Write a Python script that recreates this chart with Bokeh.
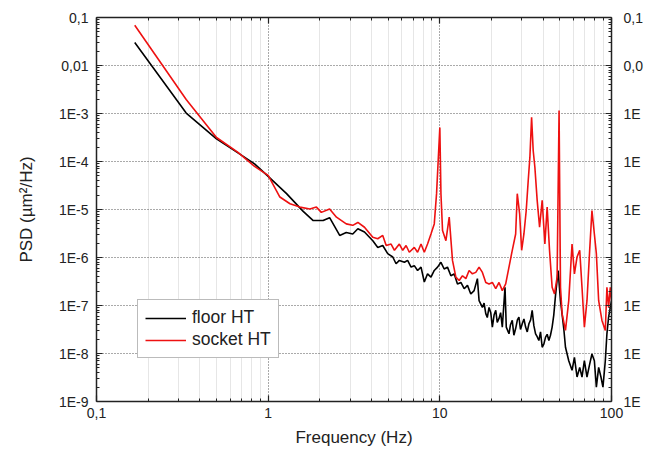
import numpy as np
from bokeh.plotting import figure
from bokeh.models import LogAxis, FixedTicker, Range1d, CustomJSTickFormatter
from bokeh.embed import file_html
from bokeh.resources import INLINE

# ---- data (frequency in Hz, PSD given as log10 of µm²/Hz) ----
floor_freq = [0.167, 0.333, 0.5, 0.667, 0.833, 1.0, 1.28, 1.6, 1.83, 2.09, 2.28,
              2.61, 2.85, 3.11, 3.33, 3.64, 4.07, 4.35, 4.65, 4.97, 5.32,
              5.56, 5.81, 6.22, 6.49, 6.80, 7.10, 7.42, 7.77, 8.12, 8.48,
              8.88, 9.28, 9.70, 10.15, 10.60, 11.08, 11.60, 12.12, 12.67, 13.26,
              13.86, 14.49, 15.15, 15.84, 16.55, 16.93, 17.70, 18.1, 18.52, 18.9,
              19.35, 19.8, 20.23, 20.7, 21.17, 21.6, 22.12, 22.6, 23.12, 23.97,
              24.38, 25.28, 25.8, 26.42, 27.0, 27.65, 28.3, 28.89, 29.5, 30.2,
              30.9, 31.60, 32.3, 33.03, 33.8, 34.51, 35.3, 36.12, 36.9, 37.75,
              38.6, 39.46, 40.4, 41.30, 42.2, 43.16, 44.1, 45.10, 46.1, 47.19,
              48.86, 50.45, 52.72, 53.94, 56.36, 58.90, 60.82, 62.98, 65.29, 67.32,
              69.51, 71.97, 74.62, 76.93, 79.47, 81.62, 84.18, 86.81, 89.16, 92.04,
              94.04, 96.2, 98.4, 100]
floor_log_psd = [-1.52, -2.99, -3.53, -3.82, -4.05, -4.31, -4.67, -5.04, -5.23, -5.23, -5.17,
                 -5.54, -5.48, -5.51, -5.40, -5.47, -5.65, -5.79, -5.75, -5.92, -5.99,
                 -6.13, -6.06, -6.10, -6.06, -6.20, -6.17, -6.27, -6.20, -6.51, -6.34,
                 -6.41, -6.27, -6.20, -6.10, -6.24, -6.20, -6.38, -6.34, -6.55, -6.52,
                 -6.65, -6.58, -6.76, -6.69, -6.44, -6.90, -7.04, -6.95, -7.17, -7.25,
                 -7.04, -7.15, -7.45, -7.20, -7.10, -7.35, -7.27, -7.15, -7.45, -6.62,
                 -7.45, -7.59, -7.40, -7.31, -7.62, -7.48, -7.30, -7.24, -7.50, -7.38,
                 -7.28, -7.45, -7.55, -7.38, -7.30, -7.10, -7.42, -7.59, -7.65, -7.73,
                 -7.55, -7.87, -7.80, -7.66, -7.60, -7.73, -7.62, -7.45, -7.20, -6.79,
                 -6.27, -6.90, -7.48, -7.87, -8.15, -8.35, -8.08, -8.49, -8.29, -8.49,
                 -8.15, -8.49, -8.22, -8.01, -8.15, -8.70, -8.29, -8.49, -8.70, -8.15,
                 -7.59, -7.24, -7.04, -6.90]

socket_freq = [0.167, 0.333, 0.5, 0.667, 0.833, 1.0, 1.17, 1.34, 1.53, 1.75, 1.91,
               2.04, 2.28, 2.50, 2.85, 3.11, 3.33, 3.64, 4.07, 4.35, 4.65,
               4.87, 5.20, 5.44, 5.81, 6.08, 6.36, 6.64, 7.10, 7.42, 7.77,
               8.12, 8.48, 8.88, 9.28, 9.57, 10.0, 10.15, 10.37, 10.85, 11.34,
               11.85, 12.40, 12.96, 13.55, 14.18, 14.81, 15.48, 16.20, 16.93, 17.70,
               18.52, 19.35, 20.23, 21.17, 22.12, 23.12, 24.19, 25.28, 26.42, 27.65,
               28.25, 29.17, 29.96, 30.89, 31.86, 32.72, 33.47, 34.24, 34.98, 35.78,
               36.90, 38.11, 39.46, 40.91, 42.19, 43.55, 45.10, 46.56, 48.21, 49.5,
               50.45, 51.54, 53.94, 56.36, 58.90, 60.82, 62.98, 65.29, 67.32, 69.51,
               71.97, 74.62, 76.93, 79.47, 81.62, 84.18, 87.98, 92.04, 94.04, 96.2,
               98.4, 100]
socket_log_psd = [-1.16, -2.71, -3.50, -3.81, -4.10, -4.29, -4.74, -4.88, -4.95, -4.99, -4.95,
                  -5.06, -4.99, -5.16, -5.30, -5.33, -5.27, -5.37, -5.58, -5.61, -5.54,
                  -5.75, -5.72, -5.85, -5.72, -5.85, -5.75, -5.89, -5.79, -5.89, -5.72,
                  -5.89, -5.72, -5.51, -5.30, -4.67, -3.29, -4.67, -5.44, -5.65, -5.16,
                  -6.06, -6.41, -6.48, -6.38, -6.44, -6.27, -6.34, -6.31, -6.20, -6.31,
                  -6.52, -6.55, -6.52, -6.65, -6.52, -6.69, -6.55, -6.20, -5.85, -5.51,
                  -4.67, -5.09, -5.85, -5.51, -5.02, -4.40, -3.91, -3.08, -3.77, -4.12,
                  -4.81, -5.37, -4.81, -5.72, -4.95, -5.85, -6.62, -6.76, -6.41, -2.94,
                  -6.62, -7.17, -7.52, -6.90, -5.72, -6.34, -5.99, -5.85, -6.62, -7.45,
                  -6.90, -5.85, -5.02, -5.51, -5.92, -6.90, -7.31, -7.52, -6.62, -7.04,
                  -6.62, -6.90]

series_names = ["floor HT", "socket HT"]
series_colors = ["#000000", "#ee1111"]

x_major = [0.1, 1.0, 10.0, 100.0]
x_labels = ["0,1", "1", "10", "100"]
y_major = [1e-9, 1e-8, 1e-7, 1e-6, 1e-5, 1e-4, 1e-3, 1e-2, 1e-1]
y_labels = ["1E-9", "1E-8", "1E-7", "1E-6", "1E-5", "1E-4", "1E-3", "0,01", "0,1"]
# right-hand labels as they appear (cut off by the picture's edge)
y_right_labels = ["1E", "1E", "1E", "1E", "1E", "1E", "1E", "0,0", "0,1"]

x_minor = [k * d for d in (0.1, 1.0, 10.0) for k in range(2, 10)]
y_minor = [k * d for d in (1e-9, 1e-8, 1e-7, 1e-6, 1e-5, 1e-4, 1e-3, 1e-2) for k in range(2, 10)]

FONT = "Liberation Sans"


def fmt(vals, labs):
    return CustomJSTickFormatter(args=dict(vals=vals, labs=labs), code="""
const lt = Math.log10(tick);
for (let i = 0; i < vals.length; i++) {
  if (Math.abs(lt - Math.log10(vals[i])) < 1e-6) { return labs[i]; }
}
return "";
""")


p = figure(width=645, height=455, x_axis_type="log", y_axis_type="log",
           x_range=Range1d(0.1, 100), y_range=Range1d(1e-9, 0.1),
           output_backend="svg", toolbar_location=None,
           min_border_left=96, min_border_right=32, min_border_top=17, min_border_bottom=54)
p.outline_line_color = None
p.background_fill_color = "white"

xticker = FixedTicker(ticks=x_major, minor_ticks=x_minor)
yticker = FixedTicker(ticks=y_major, minor_ticks=y_minor)


def style_axis(ax, ticker):
    ax.ticker = ticker
    ax.axis_line_color = "#222222"
    ax.axis_line_width = 1.5
    ax.major_tick_in = 6
    ax.major_tick_out = 0
    ax.minor_tick_in = 3
    ax.minor_tick_out = 0
    ax.major_tick_line_color = "#222222"
    ax.minor_tick_line_color = "#222222"
    ax.major_tick_line_width = 1.2
    ax.minor_tick_line_width = 1
    ax.major_label_text_font = FONT
    ax.major_label_text_color = "#222222"
    ax.axis_label_text_font = FONT
    ax.axis_label_text_font_style = "normal"
    ax.axis_label_text_color = "#222222"


bx = p.xaxis[0]
style_axis(bx, xticker)
bx.formatter = fmt(x_major, x_labels)
bx.major_label_text_font_size = "14px"
bx.major_label_standoff = 6
bx.axis_label = "Frequency (Hz)"
bx.axis_label_text_font_size = "17px"
bx.axis_label_standoff = 7

ly = p.yaxis[0]
style_axis(ly, yticker)
ly.formatter = fmt(y_major, y_labels)
ly.major_label_text_font_size = "14px"
ly.major_label_standoff = 8
ly.axis_label = "PSD (µm²/Hz)"
ly.axis_label_text_font_size = "17px"
ly.axis_label_standoff = 20

tx = LogAxis()
style_axis(tx, xticker)
tx.formatter = fmt(x_major, ["", "", "", ""])
tx.major_label_text_font_size = "0px"
tx.major_label_standoff = 0
p.add_layout(tx, "above")

ry = LogAxis()
style_axis(ry, yticker)
ry.formatter = fmt(y_major, y_right_labels)
ry.major_label_text_font_size = "14px"
ry.major_label_standoff = 12
p.add_layout(ry, "right")

p.xgrid.ticker = xticker
p.xgrid.grid_line_color = "#555555"
p.xgrid.grid_line_dash = "1 2"
p.xgrid.grid_line_width = 1
p.xgrid.minor_grid_line_color = "#cccccc"
p.xgrid.minor_grid_line_dash = "1 1"
p.ygrid.ticker = yticker
p.ygrid.grid_line_color = "#555555"
p.ygrid.grid_line_dash = "1 2"
p.ygrid.grid_line_width = 1
p.ygrid.minor_grid_line_color = None

for fr, lg, name, col in [(floor_freq, floor_log_psd, series_names[0], series_colors[0]),
                          (socket_freq, socket_log_psd, series_names[1], series_colors[1])]:
    p.line(fr, list(10.0 ** np.array(lg)), line_color=col, line_width=1.6, legend_label=name)

lg = p.legend[0]
lg.location = (41, 43)
lg.label_text_font = FONT
lg.label_text_font_size = "17.5px"
lg.label_text_color = "#222222"
lg.glyph_width = 41
lg.glyph_height = 20
lg.label_height = 20
lg.spacing = 1
lg.padding = 7
lg.margin = 0
lg.label_standoff = 6
lg.border_line_color = "#777777"
lg.border_line_width = 1
lg.background_fill_alpha = 1.0

open("out.html", "w").write(file_html(p, INLINE))
